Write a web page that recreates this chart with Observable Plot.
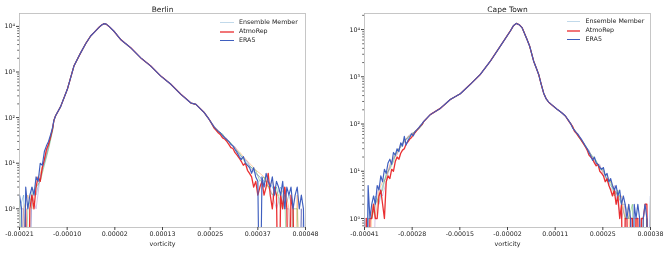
<!DOCTYPE html>
<html><head><meta charset="utf-8">
<script src="https://cdn.jsdelivr.net/npm/d3@7"></script>
<script src="https://cdn.jsdelivr.net/npm/@observablehq/plot@0.6"></script>
<style>
body{margin:0;background:#fff;font-family:"DejaVu Sans",sans-serif;}
#wrap{position:relative;width:665px;height:253px;overflow:hidden;background:#fff}
.panel{position:absolute;top:0}
.panel text{filter:grayscale(1)}
.legend{position:absolute;font-size:6.3px;color:#222;font-family:"DejaVu Sans",sans-serif}
.legend .row{position:absolute;left:0;white-space:nowrap;height:8px;line-height:8px}
.legend .sw{position:absolute;left:0;top:4px;width:13.5px;height:0}
.legend .lb{position:absolute;left:19px;top:0;filter:grayscale(1)}
</style></head><body><div id="wrap"></div><script>
// ---- data (vorticity in units of 1e-5, counts per bin) ----
const titles = ["Berlin", "Cape Town"];
const seriesNames = ["Ensemble Member", "AtmoRep", "ERA5"];
const memberColors = ["#1f77b4", "#ff7f0e", "#2ca02c", "#9467bd"];

// Berlin
const berlinXTickLabels = ["-0.00021","-0.00010","0.00002","0.00013","0.00025","0.00037","0.00048"];
const berlinXRange = [-21, 48];
const berlinCoreX = [-12.7,-12.29,-11.08,-9.46,-7.87,-6.25,-5.04,-3.83,-2.86,-1.82,-1.17,-0.61,-0.08,0.60,1.73,3.43,4.64,5.85,8.26,10.68,13.10,15.52,17.94,20.36,21.57,23.57,24.8];
const berlinCoreC = [87,110,174,417,1349,2630,4170,6166,7590,9550,10700,11480,11200,10000,7940,5130,4170,3390,2040,1349,813,537,324,209,195,129,90];
const berlinTailLX = [-21,-20.5,-20,-19.5,-19,-18.5,-18,-17.5,-17,-16.5,-16,-15.5,-15,-14.5,-14,-13.5,-13];
const berlinEraL = [2,1,0,3,1,2,3,2,5,4,10,9,18,24,30,42,62];
const berlinAtmoL = [0,0,0,1,0,1,2,1,3,5,4,8,12,20,26,38,58];
const berlinTailRX = [25.5,26,26.5,27,27.5,28,28.5,29,29.5,30,30.5,31,31.5,32,32.5,33,33.5,34,34.5,35,35.5,36,36.5,37,37.5,38,38.5,39,39.5,40,40.5,41,41.5,42,42.5,43,43.5,44,44.5,45,45.5,46,46.5,47,47.5,48];
const berlinEraR = [72,62,55,50,46,40,36,33,30,26,24,20,17,14,12,14,10,9,8,6,8,5,4,0,5,3,6,4,3,5,2,4,3,2,4,1,3,2,3,1,2,3,1,2,1,0];
const berlinAtmoR = [70,58,52,46,42,36,34,30,26,22,21,17,15,13,11,9,10,7,6,5,3,4,2,3,4,2,3,6,2,1,3,2,0,2,1,3,1,0,2,1,0,0,0,0,0,0];
const berlinMemLX = [-21,-20,-19,-18,-17,-16,-15,-14,-13];
const berlinMemRX = [26,27,28,29,30,31,32,33,34,35,36,37,38,39,40,41,42,43,44,45,46,47,48];
const berlinMembersL = [
  [1,2,0,3,2,5,10,22,55],
  [0,1,2,1,4,6,12,25,58],
  [2,0,1,2,3,4,9,20,52],
  [1,1,0,2,1,5,11,24,60]];
const berlinMembersR = [
  [60,50,42,33,27,21,16,13,10,8,6,5,4,4,3,2,3,1,2,1,0,1,0],
  [64,52,40,34,26,22,18,14,11,9,7,6,5,3,4,2,2,3,1,0,2,0,0],
  [58,48,44,31,28,20,17,12,9,8,7,4,5,3,2,3,1,2,0,1,1,0,0],
  [62,51,41,35,25,23,15,13,11,7,6,5,3,4,2,1,2,1,1,0,0,1,0]];

// Cape Town
const ctXTickLabels = ["-0.00041","-0.00028","-0.00015","-0.00002","0.00011","0.00025","0.00038"];
const ctXRange = [-41, 38];
const ctCoreX = [-24.69,-22.83,-20.07,-17.30,-14.54,-11.77,-9.01,-6.24,-3.48,-0.71,0.12,0.94,1.77,2.52,3.90,4.60,5.73,6.50,7.11,7.80,8.49,9.20,9.88,11.0,12.2,13.4,14.49];
const ctCoreC = [112,158,214,331,437,692,1122,2138,4467,9333,12000,13490,12600,11000,6166,4500,2138,1500,1122,700,450,340,290,245,205,175,148];
const ctTailLX = [-41,-40.5,-40,-39.5,-39,-38.5,-38,-37.5,-37,-36.5,-36,-35.5,-35,-34.5,-34,-33.5,-33,-32.5,-32,-31.5,-31,-30.5,-30,-29.5,-29,-28.5,-28,-27.5,-27,-26.5,-26,-25.5,-25];
const ctEraL = [1,0,5,1,2,3,2,5,4,8,6,11,9,15,18,14,25,22,30,26,40,34,55,36,45,52,62,56,70,76,84,94,104];
const ctAtmoL = [0,1,0,1,1,2,1,1,3,4,2,1,6,8,7,11,10,16,20,18,24,28,30,38,42,48,52,60,66,74,82,92,100];
const ctTailRX = [15.5,16,16.5,17,17.5,18,18.5,19,19.5,20,20.5,21,21.5,22,22.5,23,23.5,24,24.5,25,25.5,26,26.5,27,27.5,28,28.5,29,29.5,30,30.5,31,31.5,32,32.5,33,33.5,34,34.5,35,35.5,36,36.5,37,37.5,38];
const ctEraR = [115,100,82,74,66,60,52,46,40,34,30,25,21,17,20,15,14,12,11,12,8,9,6,7,5,4,5,3,4,2,3,2,1,2,1,0,2,1,2,1,0,1,2,1,0,3];
const ctAtmoR = [112,100,88,70,64,56,50,44,38,33,28,22,20,18,15,13,14,10,9,8,6,7,5,4,3,4,2,3,1,2,0,1,1,0,1,1,0,1,1,0,1,1,2,2,0,0];
const ctMemLX = [-41,-40,-39,-38,-37,-36,-35,-34,-33,-32,-31,-30,-29,-28,-27,-26,-25];
const ctMemRX = [16,17,18,19,20,21,22,23,24,25,26,27,28,29,30,31,32,33,34,35,36,37,38];
const ctMembersL = [
  [0,2,1,3,2,5,8,12,18,26,34,46,50,60,68,80,96],
  [1,0,2,1,4,6,7,14,20,24,36,42,54,58,72,84,100],
  [0,1,1,2,3,4,9,11,16,28,32,44,52,62,70,78,98],
  [1,1,0,2,5,3,6,13,19,22,38,40,55,64,66,82,102]];
const ctMembersR = [
  [100,72,58,46,35,27,20,16,12,10,7,5,4,3,2,2,1,1,0,1,0,1,0],
  [104,76,60,44,33,26,19,15,13,9,8,6,4,3,3,1,2,0,1,0,1,0,0],
  [98,74,56,42,36,25,21,17,11,11,6,6,3,4,2,1,1,2,0,0,0,1,0],
  [102,70,62,48,34,28,18,14,14,8,7,4,5,2,1,2,0,1,1,1,0,0,0]];

const yMajor = [1, 10, 100, 1000, 10000];
const UNIT = 1e-5;
const sup = {"0":"⁰","1":"¹","2":"²","3":"³","4":"⁴","5":"⁵"};

function buildSeries(key, LX, LC, coreX, coreC, RX, RC) {
  const rows = [];
  LX.forEach((x, i) => rows.push({s: key, v: x * UNIT, c: LC[i]}));
  coreX.forEach((x, i) => rows.push({s: key, v: x * UNIT, c: coreC[i]}));
  RX.forEach((x, i) => rows.push({s: key, v: x * UNIT, c: RC[i]}));
  return rows;
}

function panel(o) {
  const [x0, x1] = o.xRange;
  const n = o.tickLabels.length;
  const ticks = o.tickLabels.map((_, i) => (x0 + (x1 - x0) * i / (n - 1)) * UNIT);
  const labelOf = new Map(ticks.map((t, i) => [t, o.tickLabels[i]]));
  const memberRows = [];
  o.membersL.forEach((L, k) => memberRows.push(...buildSeries("m" + k, o.memLX, L, o.coreX, o.coreC, o.memRX, o.membersR[k])));
  const atmoRows = buildSeries("atmo", o.tailLX, o.atmoL, o.coreX, o.coreC, o.tailRX, o.atmoR);
  const eraRows = buildSeries("era", o.tailLX, o.eraL, o.coreX, o.coreC, o.tailRX, o.eraR);
  const ylo = o.yDomain[0], yhi = o.yDomain[1];
  const minor = [];
  for (let e = -1; e <= 4; e++) for (let m = 2; m <= 9; m++) { const v = m * Math.pow(10, e); if (v >= ylo && v <= yhi) minor.push(v); }
  const yv = d => d.c > 0 ? d.c : 1e-3;
  return Plot.plot({
    width: o.width, height: 253,
    marginLeft: o.ml, marginRight: o.mr, marginTop: 13, marginBottom: 26,
    style: {fontFamily: "DejaVu Sans", fontSize: "6.3px", color: "#222", background: "white", overflow: "visible"},
    x: {domain: [x0 * UNIT, x1 * UNIT], axis: null},
    y: {type: "log", domain: o.yDomain, axis: null},
    color: {domain: ["m0","m1","m2","m3"], range: memberColors},
    marks: [
      Plot.line(memberRows, {x: "v", y: yv, z: "s", stroke: "s", strokeOpacity: 0.38, strokeWidth: 1, clip: true}),
      Plot.line(atmoRows, {x: "v", y: yv, stroke: "#e8191c", strokeOpacity: 0.9, strokeWidth: 1.3, clip: true}),
      Plot.line(eraRows, {x: "v", y: yv, stroke: "#3f5fbf", strokeWidth: 1.15, clip: true}),
      Plot.frame({stroke: "#b8b8b8", strokeWidth: 0.8}),
      Plot.axisX({ticks, tickFormat: d => labelOf.get(d), tickSize: 3, tickPadding: 1, label: null, stroke: "#444", fill: "#222"}),
      Plot.axisY({ticks: minor, tickFormat: () => "", tickSize: 1.8, label: null, stroke: "#666"}),
      Plot.axisY({ticks: yMajor, tickFormat: d => "10" + sup[String(Math.round(Math.log10(d)))], tickSize: 3, tickPadding: 1.5, label: null, stroke: "#444", fill: "#222"}),
      Plot.text([o.title], {frameAnchor: "top", dy: -6.5, fontSize: 7.5, fill: "#222"}),
      Plot.text(["vorticity"], {frameAnchor: "bottom", dy: 18, fontSize: 6.3, fill: "#222"})
    ]
  });
}

function legend(left, top) {
  const div = document.createElement("div");
  div.className = "legend";
  div.style.left = left + "px"; div.style.top = top + "px";
  const styles = [
    "border-top:1.5px solid rgba(31,119,180,0.28)",
    "border-top:2.2px solid rgba(232,25,28,0.6)",
    "border-top:1.5px solid #3f5fbf"];
  seriesNames.forEach((name, i) => {
    const r = document.createElement("div");
    r.className = "row"; r.style.top = (i * 9.2) + "px";
    r.innerHTML = `<span class="sw" style="${styles[i]}"></span><span class="lb">${name}</span>`;
    div.appendChild(r);
  });
  return div;
}

const wrap = document.getElementById("wrap");
const p1 = panel({title: titles[0], width: 333, ml: 19, mr: 28, xRange: berlinXRange, tickLabels: berlinXTickLabels,
  yDomain: [Math.pow(10, -0.41), Math.pow(10, 4.283)], coreX: berlinCoreX, coreC: berlinCoreC,
  tailLX: berlinTailLX, eraL: berlinEraL, atmoL: berlinAtmoL, tailRX: berlinTailRX, eraR: berlinEraR, atmoR: berlinAtmoR,
  memLX: berlinMemLX, memRX: berlinMemRX, membersL: berlinMembersL, membersR: berlinMembersR});
p1.classList.add("panel"); p1.style.left = "0px";
const p2 = panel({title: titles[1], width: 332, ml: 31, mr: 15, xRange: ctXRange, tickLabels: ctXTickLabels,
  yDomain: [Math.pow(10, -0.191), Math.pow(10, 4.34)], coreX: ctCoreX, coreC: ctCoreC,
  tailLX: ctTailLX, eraL: ctEraL, atmoL: ctAtmoL, tailRX: ctTailRX, eraR: ctEraR, atmoR: ctAtmoR,
  memLX: ctMemLX, memRX: ctMemRX, membersL: ctMembersL, membersR: ctMembersR});
p2.classList.add("panel"); p2.style.left = "333px";
wrap.appendChild(p1); wrap.appendChild(p2);
wrap.appendChild(legend(220, 17.5));
wrap.appendChild(legend(566.5, 17));
</script></body></html>
